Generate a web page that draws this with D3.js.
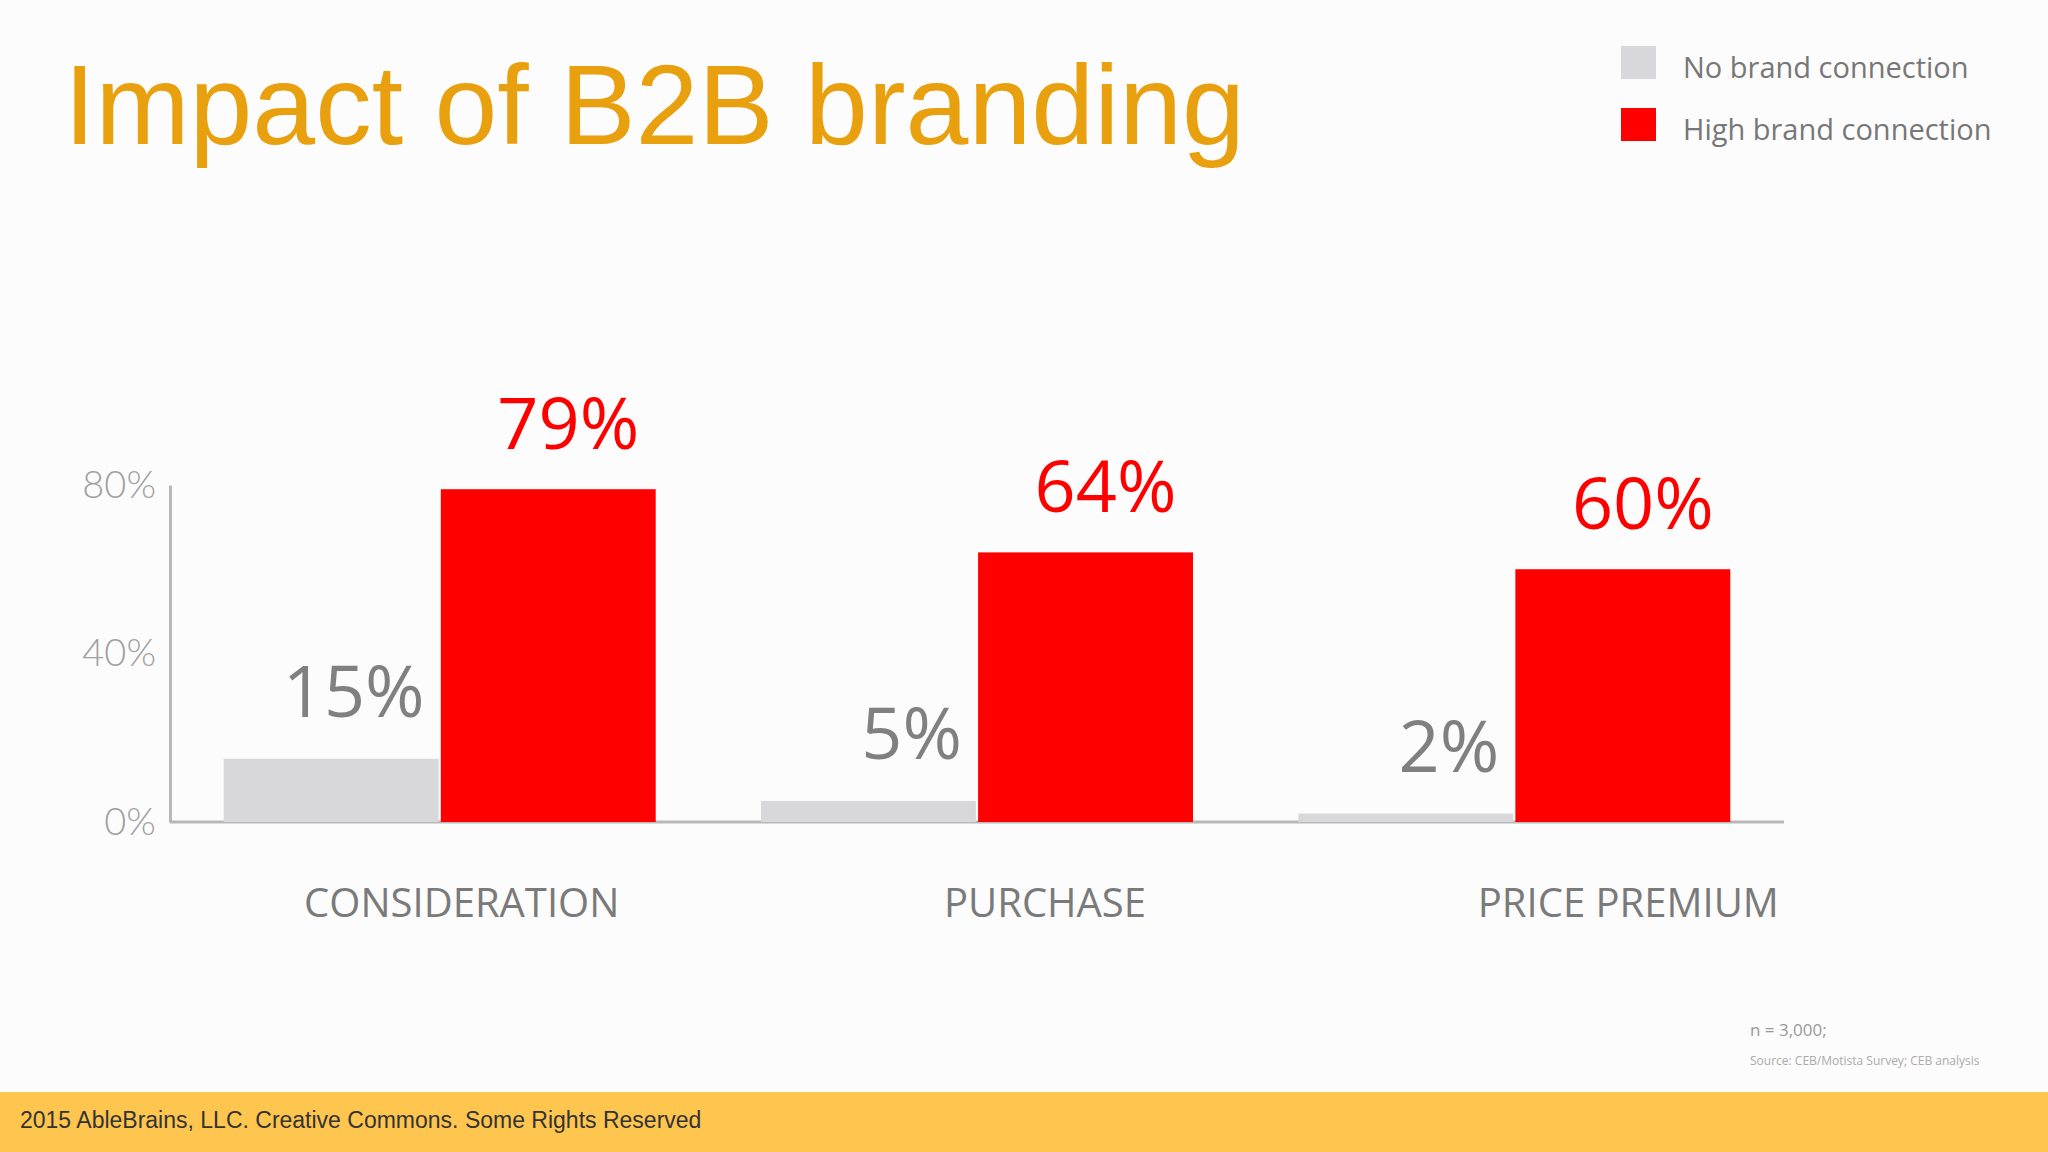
<!DOCTYPE html>
<html><head><meta charset="utf-8">
<script src="https://cdn.jsdelivr.net/npm/d3@7"></script>
<style>body{margin:0;background:#fdfcfd;}svg{display:block;}</style>
</head><body><div id="wrapper"></div>
<script>
const categories = ["CONSIDERATION", "PURCHASE", "PRICE PREMIUM"];
const seriesNames = ["No brand connection", "High brand connection"];
const noBrand = [15, 5, 2];
const highBrand = [79, 64, 60];
const yTicks = [0, 40, 80];
const colors = ["#d8d7d9", "#ff0000"];

const width = 2048, height = 1152;
const svg = d3.select("#wrapper").append("svg").attr("width", width).attr("height", height);
svg.append("rect").attr("width", width).attr("height", height).attr("fill", "#fdfcfd");

// title
svg.append("text").attr("x", 64).attr("y", 144)
    .attr("font-family", "Liberation Sans, Arial").attr("font-size", 113)
    .attr("fill", "#e8a00e").text("Impact of B2B branding");

// legend
seriesNames.forEach((s, i) => {
    svg.append("rect").attr("x", 1621).attr("y", 46 + i * 62).attr("width", 35).attr("height", 33).attr("fill", colors[i]);
    svg.append("text").attr("x", 1683).attr("y", 78 + i * 62)
        .attr("font-family", "Open Sans").attr("font-size", 29).attr("fill", "#777").text(s);
});

const x0 = d3.scaleBand().domain(categories).range([170, 1784]).paddingInner(0.196).paddingOuter(0.1);
const x1 = d3.scaleBand().domain([0, 1]).range([0, x0.bandwidth()]).paddingInner(0.01);
const y = d3.scaleLinear().domain([0, 80]).range([822, 485]);

// axes
const yAxis = svg.append("g").attr("transform", "translate(170,0)")
    .call(d3.axisLeft(y).tickValues(yTicks).tickFormat(d => d + "%").tickSize(0).tickPadding(14));
yAxis.select(".domain").attr("stroke", "#b8b8b8").attr("stroke-width", 3);
yAxis.selectAll("text").attr("font-family", "Lato").attr("font-size", 38).attr("font-weight", 300).attr("fill", "#a0a0a0");
svg.append("line").attr("x1", 170).attr("x2", 1784).attr("y1", 822).attr("y2", 822)
    .attr("stroke", "#b8b8b8").attr("stroke-width", 3);

const groups = svg.selectAll(".grp").data(categories).join("g")
    .attr("transform", d => `translate(${x0(d)},0)`);

[noBrand, highBrand].forEach((vals, s) => {
    groups.append("rect")
        .attr("x", x1(s)).attr("width", x1.bandwidth())
        .attr("y", (d, i) => y(vals[i])).attr("height", (d, i) => 822 - y(vals[i]))
        .attr("fill", colors[s]);
});

// value labels
groups.append("text")
    .attr("x", x1(0) + x1.bandwidth() - 14).attr("y", (d, i) => y(noBrand[i]) - 42)
    .attr("text-anchor", "end").attr("font-family", "Open Sans").attr("font-size", 72)
    .attr("fill", "#808080").text((d, i) => noBrand[i] + "%");
groups.append("text")
    .attr("x", x1(1) + x1.bandwidth() / 2 + 20).attr("y", (d, i) => y(highBrand[i]) - 40)
    .attr("text-anchor", "middle").attr("font-family", "Open Sans").attr("font-size", 72)
    .attr("fill", "#ff0000").text((d, i) => highBrand[i] + "%");

// category labels
groups.append("text")
    .attr("x", (d, i) => x0.bandwidth() / 2 + 22 + i * 46).attr("y", 917)
    .attr("text-anchor", "middle").attr("font-family", "Open Sans").attr("font-size", 40)
    .attr("fill", "#7a7a7a").text(d => d);

// notes
svg.append("text").attr("x", 1750).attr("y", 1036).attr("font-family", "Open Sans")
    .attr("font-size", 17).attr("fill", "#999").text("n = 3,000;");
svg.append("text").attr("x", 1750).attr("y", 1065).attr("font-family", "Open Sans")
    .attr("font-size", 12).attr("fill", "#aaa").text("Source: CEB/Motista Survey; CEB analysis");

// footer
svg.append("rect").attr("x", 0).attr("y", 1092).attr("width", width).attr("height", 60).attr("fill", "#ffc64f");
svg.append("text").attr("x", 20).attr("y", 1128).attr("font-family", "Liberation Sans, Arial")
    .attr("font-size", 23).attr("fill", "#333").text("2015 AbleBrains, LLC. Creative Commons. Some Rights Reserved");
</script>
</body></html>
